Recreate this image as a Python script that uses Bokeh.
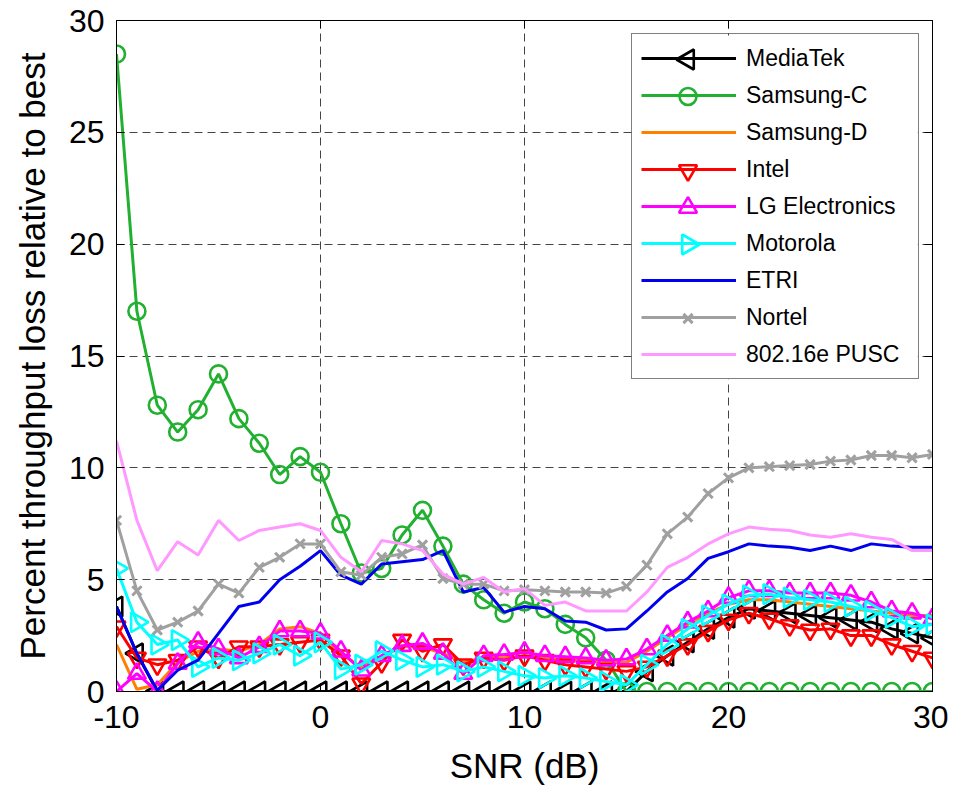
import numpy as np
from bokeh.plotting import figure
from bokeh.models import Legend, LegendItem, LinearAxis, FixedTicker, Range1d, ColumnDataSource
from bokeh.embed import file_html
from bokeh.resources import INLINE

snr = list(range(-10, 31))

mediatek = [3.8, 1.7] + [0.0] * 24 + [0.9, 1.6, 2.2, 2.8, 3.3, 3.7, 3.6, 3.5, 3.4, 3.3, 3.2, 3.1, 2.8, 2.6, 2.4]
samsung_c = [28.5, 17.0, 12.8, 11.6, 12.6, 14.2, 12.2, 11.1, 9.7, 10.5, 9.8,
             7.5, 5.3, 5.5, 7.0, 8.1, 6.5, 4.8, 4.1, 3.5, 4.0,
             3.7, 3.0, 2.4, 1.4] + [0.0] * 16
samsung_d = [2.1, 0.1, 0.3, 1.3, 1.8, 1.9, 1.8, 2.1, 2.8, 2.9, 2.6,
             1.7, 1.1, 1.6, 2.0, 2.0, 1.7, 1.3, 1.5, 1.5, 1.6,
             1.5, 1.4, 1.4, 1.3, 1.3, 1.8, 2.4, 3.0, 3.5, 3.9,
             4.1, 4.1, 4.0, 3.9, 3.8, 3.7, 3.6, 3.5, 3.4, 3.4]
intel = [2.9, 1.5, 1.2, 1.4, 2.0, 1.5, 2.0, 2.0, 2.1, 2.2, 2.3,
         1.6, 0.35, 1.3, 2.3, 1.8, 2.1, 1.2, 1.5, 1.4, 1.6,
         1.4, 1.2, 1.1, 1.0, 0.9, 1.1, 1.6, 2.1, 2.7, 3.2,
         3.5, 3.25, 2.95, 2.75, 2.8, 2.5, 2.5, 2.1, 1.8, 1.5]
lg = [0.0, 0.8, 0.0, 1.25, 2.2, 1.9, 1.5, 2.0, 2.7, 2.7, 2.6,
      1.8, 0.95, 1.6, 2.05, 2.15, 1.7, 0.8, 1.6, 1.65, 1.75,
      1.6, 1.55, 1.5, 1.4, 1.45, 1.9, 2.5, 3.1, 3.6, 4.2,
      4.5, 4.5, 4.4, 4.4, 4.4, 4.3, 4.0, 3.6, 3.5, 3.25]
motorola = [5.5, 3.1, 2.1, 2.3, 1.1, 1.5, 1.4, 1.7, 2.1, 1.6, 2.2,
            1.0, 1.2, 1.8, 1.4, 1.1, 1.2, 0.9, 1.1, 0.9, 0.7,
            0.6, 0.7, 0.6, 0.45, 0.3, 1.2, 2.1, 2.8, 3.4, 3.9,
            4.3, 4.35, 4.2, 4.1, 4.0, 3.8, 3.6, 3.3, 2.9, 3.0]
etri = [3.8, 1.7, 0.05, 0.95, 1.4, 2.6, 3.8, 4.0, 5.0, 5.6, 6.3,
        5.2, 4.8, 5.7, 5.8, 5.9, 6.3, 4.45, 4.65, 3.55, 3.8,
        3.7, 3.15, 3.1, 2.75, 2.8, 3.6, 4.45, 5.05, 5.95, 6.25,
        6.6, 6.5, 6.45, 6.3, 6.5, 6.3, 6.6, 6.5, 6.45, 6.45]
nortel = [7.65, 4.5, 2.75, 3.1, 3.6, 4.8, 4.4, 5.55, 6.0, 6.6, 6.6,
          5.35, 5.2, 6.0, 6.15, 6.55, 5.05, 4.8, 4.8, 4.5, 4.55,
          4.5, 4.45, 4.45, 4.4, 4.7, 5.65, 7.05, 7.8, 8.85, 9.55,
          10.0, 10.05, 10.1, 10.15, 10.3, 10.35, 10.55, 10.55, 10.45, 10.6]
pusc = [11.2, 7.65, 5.4, 6.7, 6.1, 7.65, 6.75, 7.2, 7.35, 7.5, 7.2,
        6.0, 5.35, 6.75, 6.6, 6.3, 5.25, 4.8, 5.1, 4.45, 4.6,
        3.85, 4.0, 3.6, 3.6, 3.6, 4.45, 5.55, 6.0, 6.6, 7.05,
        7.35, 7.25, 7.2, 7.0, 6.9, 7.05, 6.9, 6.8, 6.3, 6.3]

x_ticks = [-10, 0, 10, 20, 30]
y_ticks = [0, 5, 10, 15, 20, 25, 30]

# name, values, colour, marker, rotation (deg), marker size
series = [
    ("MediaTek", mediatek, "#000000", "triangle", 90.0, 20),
    ("Samsung-C", samsung_c, "#22b030", "circle", 0.0, 17),
    ("Samsung-D", samsung_d, "#ff8000", None, 0.0, 0),
    ("Intel", intel, "#ff0000", "inverted_triangle", 0.0, 18),
    ("LG Electronics", lg, "#ff00ff", "triangle", 0.0, 18),
    ("Motorola", motorola, "#00ffff", "triangle", -90.0, 20),
    ("ETRI", etri, "#0000ee", None, 0.0, 0),
    ("Nortel", nortel, "#a0a0a0", "x", 0.0, 13),
    ("802.16e PUSC", pusc, "#ff99ff", None, 0.0, 0),
]

FONT = "Liberation Sans"
FW, FH = 816, 671
X0, X1, Y0, Y1 = -10, 30, 0, 30

p = figure(frame_width=FW, frame_height=FH,
           x_range=Range1d(X0, X1), y_range=Range1d(Y0, Y1),
           output_backend="svg", toolbar_location=None,
           min_border_left=116, min_border_right=16,
           min_border_top=20, min_border_bottom=60)
p.background_fill_color = "white"
p.border_fill_color = "white"
p.outline_line_color = "black"
p.outline_line_width = 1

for ax, ticks in ((p.xaxis[0], x_ticks), (p.yaxis[0], y_ticks)):
    ax.ticker = FixedTicker(ticks=ticks)
    ax.major_label_overrides = {t: str(t) for t in ticks}
    ax.major_label_text_font = FONT
    ax.major_label_text_font_size = "32px"
    ax.major_label_text_color = "black"
    ax.major_tick_in = 8
    ax.major_tick_out = 0
    ax.minor_tick_in = 0
    ax.minor_tick_out = 0
    ax.axis_line_color = "black"
    ax.major_tick_line_color = "black"
    ax.axis_label_text_font = FONT
    ax.axis_label_text_font_style = "normal"
    ax.axis_label_text_color = "black"

p.xaxis.axis_label = "SNR (dB)"
p.yaxis.axis_label = "Percent throughput loss relative to best"
p.xaxis.axis_label_text_font_size = "35px"
p.yaxis.axis_label_text_font_size = "35px"
p.xaxis.major_label_standoff = 14
p.yaxis.major_label_standoff = 12
p.xaxis.axis_label_standoff = 15
p.yaxis.axis_label_standoff = 14

for loc, ticks in (("right", y_ticks), ("above", x_ticks)):
    a = LinearAxis(ticker=FixedTicker(ticks=ticks), major_label_text_font_size="1px",
                   major_label_text_color=None,
                   major_label_standoff=0, major_tick_in=8, major_tick_out=0,
                   minor_tick_in=0, minor_tick_out=0, axis_line_color="black")
    p.add_layout(a, loc)

p.xgrid.ticker = FixedTicker(ticks=x_ticks)
p.ygrid.ticker = FixedTicker(ticks=y_ticks)
for g in (p.xgrid[0], p.ygrid[0]):
    g.grid_line_color = "#444444"
    g.grid_line_dash = "8 5"
    g.grid_line_width = 1

# legend layout (screen pixels relative to the frame)
LEG_X, LEG_Y = 515, 312
PAD, ROW_H, SPACING, GLYPH_W, STANDOFF, LABEL_W = 9, 30, 7, 95, 10, 163
n_rows = len(series)
leg_h = 2 * PAD + n_rows * ROW_H + (n_rows - 1) * SPACING
leg_w = 2 * PAD + GLYPH_W + STANDOFF + LABEL_W
leg_top = FH - LEG_Y - leg_h


def px_x(px):
    return X0 + px * (X1 - X0) / FW


def px_y(py_from_top):
    return Y1 - py_from_top * (Y1 - Y0) / FH


items = []
legend_marks = []
for i, (name, vals, color, marker, ang, size) in enumerate(series):
    src = ColumnDataSource(dict(x=snr, y=vals, ang=[ang] * len(snr)))
    line_r = p.line("x", "y", source=src, line_color=color, line_width=3)
    if marker is not None:
        p.scatter("x", "y", source=src, marker=marker, size=size,
                  angle="ang", angle_units="deg",
                  line_color=color, fill_color=None,
                  line_width=3 if marker == "x" else 2.6)
        legend_marks.append((i, color, marker, ang, size))
    items.append(LegendItem(label=name, renderers=[line_r]))

# opaque legend background (glyph level, above the data) and legend markers
p.quad(left=[px_x(LEG_X)], right=[px_x(LEG_X + leg_w)],
       top=[px_y(leg_top)], bottom=[px_y(leg_top + leg_h)],
       fill_color="white", line_color=None)
for i, color, marker, ang, size in legend_marks:
    lx = px_x(LEG_X + PAD + GLYPH_W / 2)
    ly = px_y(leg_top + PAD + i * (ROW_H + SPACING) + ROW_H / 2)
    p.scatter([lx], [ly], marker=marker, size=size, angle=ang, angle_units="deg",
              line_color=color, fill_color=None,
              line_width=3 if marker == "x" else 2.6)

legend = Legend(items=items, location=(LEG_X, LEG_Y), label_text_font=FONT,
                label_text_font_size="23px", label_text_color="black",
                glyph_width=GLYPH_W, glyph_height=ROW_H, label_height=ROW_H, label_width=LABEL_W,
                label_standoff=STANDOFF, spacing=SPACING, padding=PAD, margin=0,
                border_line_color="black", border_line_width=1,
                background_fill_alpha=0)
p.add_layout(legend)

open("out.html", "w").write(file_html(p, INLINE))
